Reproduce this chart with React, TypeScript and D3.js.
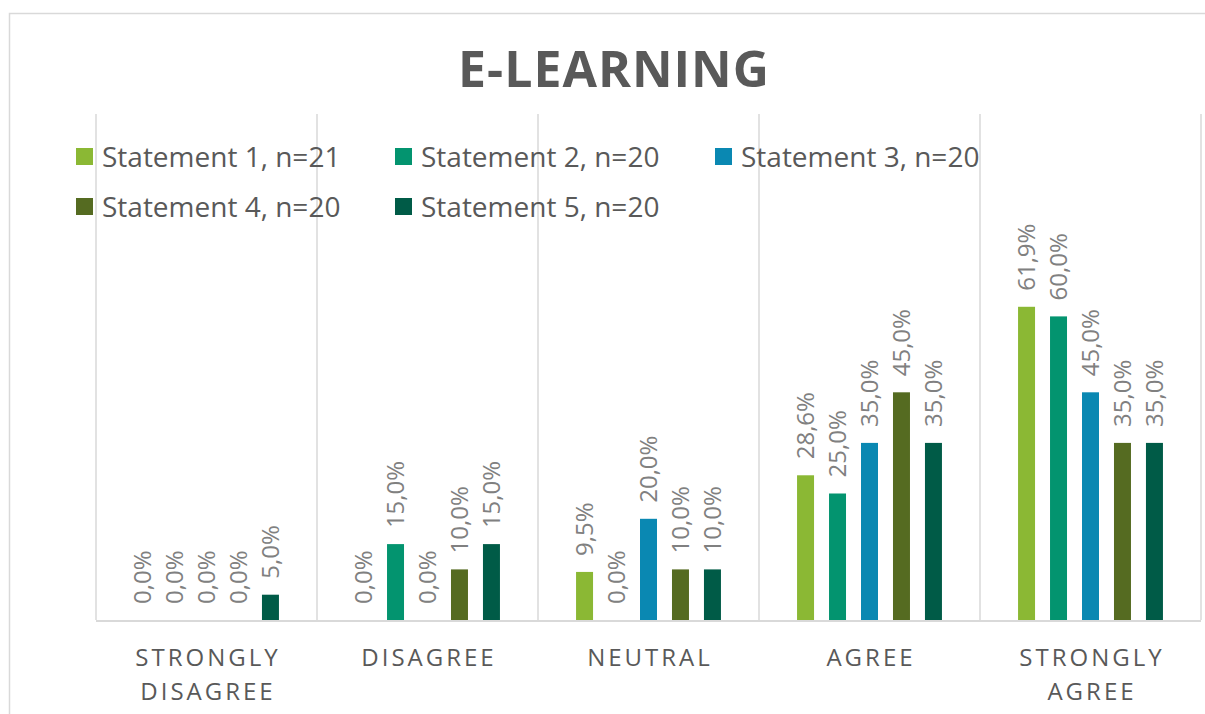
import React from "react";
import * as d3 from "d3";

const categories = ["STRONGLY DISAGREE", "DISAGREE", "NEUTRAL", "AGREE", "STRONGLY AGREE"];
const categoryLines = [["STRONGLY", "DISAGREE"], ["DISAGREE"], ["NEUTRAL"], ["AGREE"], ["STRONGLY", "AGREE"]];
const seriesNames = [
  "Statement 1, n=21",
  "Statement 2, n=20",
  "Statement 3, n=20",
  "Statement 4, n=20",
  "Statement 5, n=20",
];
const seriesColors = ["#8BB834", "#03946F", "#0A88B2", "#556B21", "#005B47"];
const statement1 = [0, 0, 9.5, 28.6, 61.9];
const statement2 = [0, 15, 0, 25, 60];
const statement3 = [0, 0, 20, 35, 45];
const statement4 = [0, 10, 10, 45, 35];
const statement5 = [5, 15, 10, 35, 35];
const seriesValues = [statement1, statement2, statement3, statement4, statement5];

const W = 1205;
const H = 714;
const plotLeft = 96;
const plotRight = 1201;
const plotTop = 114;
const plotBottom = 620;

export default function App() {
  const x0 = d3.scaleBand<string>().domain(categories).range([plotLeft, plotRight]).padding(0);
  const x1 = d3
    .scaleBand<string>()
    .domain(seriesNames)
    .range([0, x0.bandwidth()])
    .paddingInner(15 / 32)
    .paddingOuter(1.19);
  const y = d3.scaleLinear().domain([0, 100]).range([plotBottom, plotTop]);
  const fmt = (v: number) => v.toFixed(1).replace(".", ",") + "%";

  const legendPos = [
    [76, 157],
    [395, 157],
    [715, 157],
    [76, 207],
    [395, 207],
  ];

  const gridXs = categories.map((c) => x0(c)!).concat([plotRight]);

  return (
    <svg width={W} height={H} style={{ position: "absolute", left: 0, top: 0, background: "#fff" }}>
      <rect x={9.5} y={13.5} width={1300} height={800} fill="#fff" stroke="#D9D9D9" strokeWidth={1.5} />
      <text
        x={614}
        y={87}
        textAnchor="middle"
        fontFamily="'Open Sans', sans-serif"
        fontWeight="bold"
        fontSize={50}
        fill="#595959"
        letterSpacing={1}
      >
        E-LEARNING
      </text>
      {gridXs.map((gx, i) => (
        <line key={i} x1={gx} x2={gx} y1={plotTop} y2={plotBottom} stroke="#D9D9D9" strokeWidth={1.5} />
      ))}
      <line x1={plotLeft} x2={plotRight} y1={plotBottom + 1} y2={plotBottom + 1} stroke="#D9D9D9" strokeWidth={2} />
      {seriesNames.map((s, si) => (
        <g key={s}>
          {categories.map((c, ci) => {
            const v = seriesValues[si][ci];
            const bx = x0(c)! + x1(s)!;
            const bw = x1.bandwidth();
            const top = y(v);
            const cx = bx + bw / 2;
            return (
              <g key={c}>
                {v > 0 && <rect x={bx} y={top} width={bw} height={plotBottom - top} fill={seriesColors[si]} />}
                <text
                  transform={`translate(${cx},${top - 16}) rotate(-90)`}
                  dy="0.36em"
                  fontFamily="'Open Sans', sans-serif"
                  fontSize={24}
                  fill="#808080"
                >
                  {fmt(v)}
                </text>
              </g>
            );
          })}
        </g>
      ))}
      {categories.map((c, ci) => (
        <text
          key={c}
          x={x0(c)! + x0.bandwidth() / 2}
          textAnchor="middle"
          fontFamily="'Open Sans', sans-serif"
          fontSize={24}
          fill="#595959"
          letterSpacing={3}
        >
          {categoryLines[ci].map((ln, li) => (
            <tspan key={li} x={x0(c)! + x0.bandwidth() / 2 + 1.5} y={666 + li * 34}>
              {ln}
            </tspan>
          ))}
        </text>
      ))}
      {seriesNames.map((s, si) => (
        <g key={s} transform={`translate(${legendPos[si][0]},${legendPos[si][1]})`}>
          <rect x={0} y={-9} width={17} height={17} fill={seriesColors[si]} />
          <text x={26} y={0} dy="0.35em" fontFamily="'Open Sans', sans-serif" fontSize={28} fill="#595959">
            {s}
          </text>
        </g>
      ))}
    </svg>
  );
}
